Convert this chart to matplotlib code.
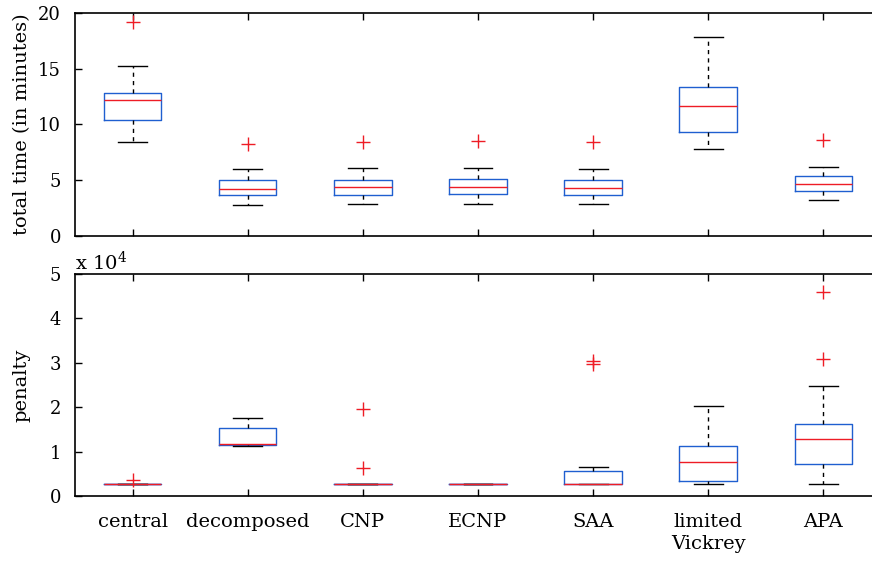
import matplotlib
matplotlib.use("Agg")
import matplotlib.pyplot as plt

plt.rcParams['font.family'] = ['DejaVu Serif']
plt.rcParams['font.size'] = 14
plt.rcParams['mathtext.fontset'] = 'dejavuserif'

labels = ['central', 'decomposed', 'CNP', 'ECNP', 'SAA', 'limited\nVickrey', 'APA']

# total time (minutes): lower whisker, Q1, median, Q3, upper whisker
time_lo = [8.43, 2.78, 2.87, 2.90, 2.87, 7.80, 3.23]
time_q1 = [10.37, 3.65, 3.71, 3.74, 3.71, 9.30, 4.06]
time_med = [12.23, 4.24, 4.37, 4.37, 4.33, 11.63, 4.63]
time_q3 = [12.85, 5.00, 5.05, 5.08, 5.05, 13.34, 5.35]
time_hi = [15.25, 6.01, 6.07, 6.13, 6.04, 17.85, 6.16]
time_out = [[19.17], [8.28], [8.40], [8.49], [8.40], [], [8.61]]

# penalty (x 10^4)
pen_lo = [0.26, 1.13, 0.26, 0.26, 0.26, 0.28, 0.27]
pen_q1 = [0.26, 1.14, 0.26, 0.26, 0.26, 0.34, 0.71]
pen_med = [0.27, 1.16, 0.27, 0.27, 0.277, 0.77, 1.28]
pen_q3 = [0.28, 1.52, 0.28, 0.28, 0.556, 1.12, 1.63]
pen_hi = [0.28, 1.75, 0.28, 0.28, 0.646, 2.03, 2.47]
pen_out = [[0.367], [], [1.97, 0.64], [], [3.03, 2.97], [], [4.59, 3.09]]


def stats(lo, q1, med, q3, hi, out):
    return [dict(whislo=a, q1=b, med=c, q3=d, whishi=e, fliers=f)
            for a, b, c, d, e, f in zip(lo, q1, med, q3, hi, out)]


fig = plt.figure(figsize=(8.72, 5.64), dpi=100)
ax1 = fig.add_axes([0.086, 0.5816, 0.9243, 0.3954])
ax2 = fig.add_axes([0.086, 0.1206, 0.9243, 0.3936])

box_style = dict(color='#1f5fd0', linewidth=1.0)
med_style = dict(color='#ee1c25', linewidth=1.0)
whisk_style = dict(color='black', linestyle=(0, (3, 3)), linewidth=1.0)
cap_style = dict(color='black', linewidth=1.0)
flier_style = dict(marker='+', markeredgecolor='#ee1c25', markersize=10,
                   markeredgewidth=1.0, linestyle='none')

for ax, st in [(ax1, stats(time_lo, time_q1, time_med, time_q3, time_hi, time_out)),
               (ax2, stats(pen_lo, pen_q1, pen_med, pen_q3, pen_hi, pen_out))]:
    ax.bxp(st, positions=range(1, len(labels) + 1), widths=0.5,
           capwidths=0.25, boxprops=box_style, medianprops=med_style,
           whiskerprops=whisk_style, capprops=cap_style,
           flierprops=flier_style)
    ax.set_xlim(0.5, 7.5)
    ax.tick_params(direction='in', top=True, right=True, length=5, width=1)
    ax.tick_params(axis='y', pad=10, labelsize=13)
    for s in ax.spines.values():
        s.set_linewidth(1.2)

ax1.set_ylim(0, 20)
ax1.set_yticks([0, 5, 10, 15, 20])
ax1.set_xticks(range(1, 8))
ax1.set_xticklabels([])
ax1.set_ylabel('total time (in minutes)', labelpad=5)

ax2.set_ylim(0, 5)
ax2.set_yticks([0, 1, 2, 3, 4, 5])
ax2.set_xticks(range(1, 8))
ax2.set_xticklabels(labels, linespacing=1.3)
ax2.tick_params(axis='x', pad=12)
ax2.set_ylabel('penalty', labelpad=14)
ax2.text(0.0, 1.0, r'x 10$^4$', transform=ax2.transAxes, ha='left', va='bottom')

fig.savefig('out.png', dpi=100)
